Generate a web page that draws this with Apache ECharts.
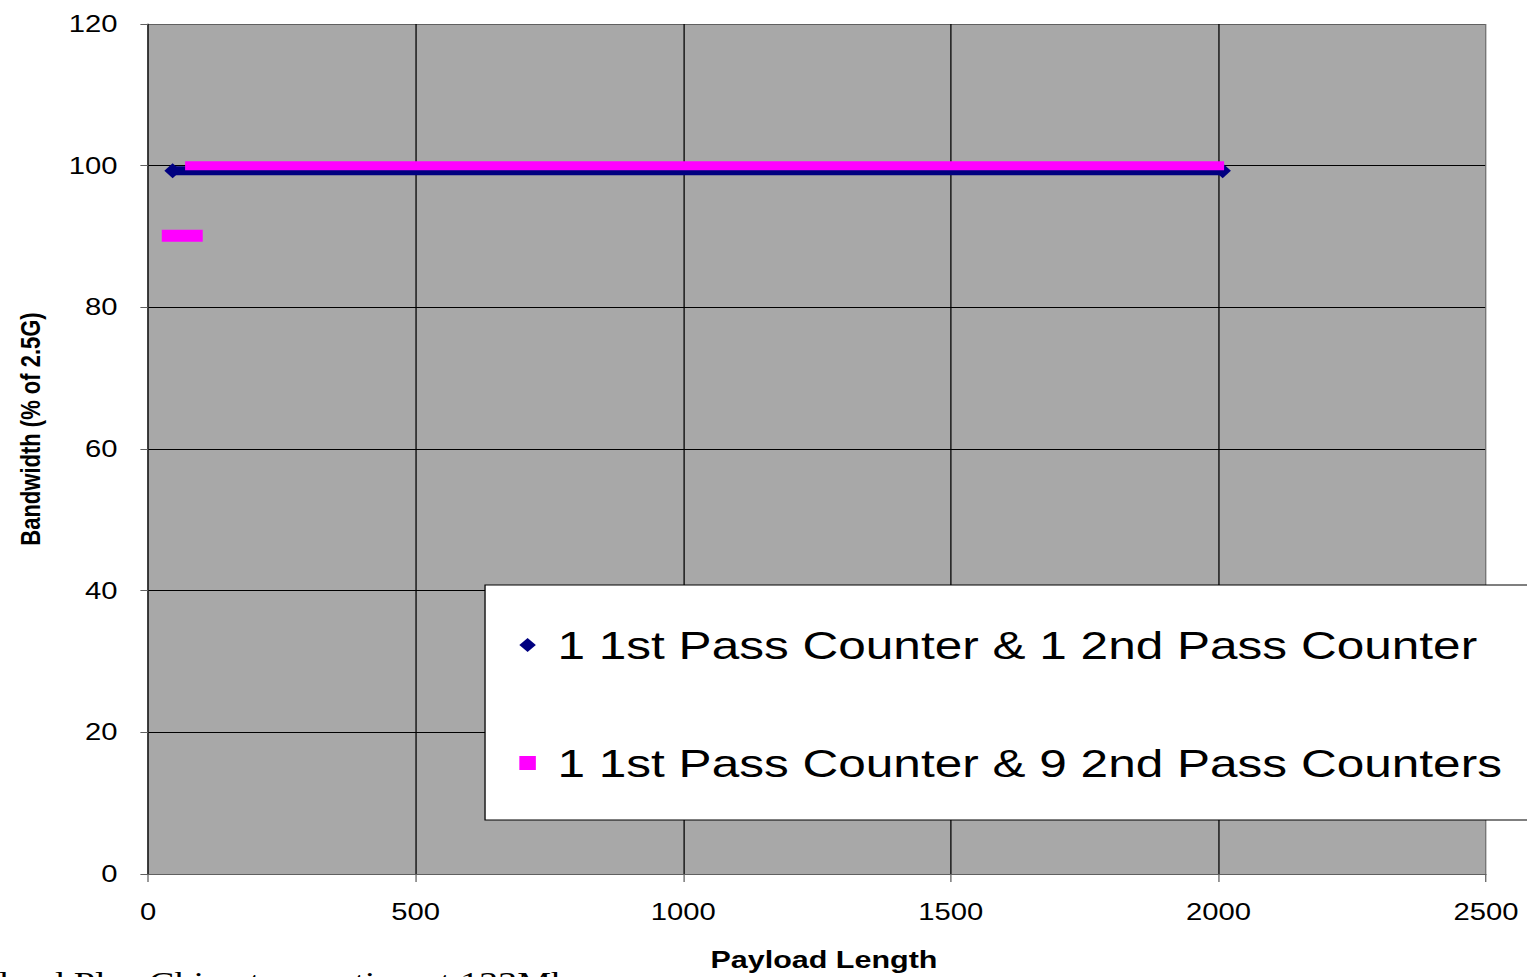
<!DOCTYPE html>
<html>
<head>
<meta charset="utf-8">
<script src="https://cdn.jsdelivr.net/npm/echarts@6/dist/echarts.min.js"></script>
<style>
  html, body { margin: 0; padding: 0; background: #fff; overflow: hidden; }
  /* the sheet is laid out narrow and widened horizontally, like a stretched Excel chart */
  #wrap { position: absolute; left: 0; top: 0; width: 1527px; height: 977px; overflow: hidden; }
  #chart { position: absolute; left: 0; top: 0; width: 1202px; height: 977px;
           transform: scaleX(1.2704); transform-origin: 0 0; }
</style>
</head>
<body>
<div id="wrap"><div id="chart"></div></div>
<script>
// Series names
const seriesNames = [
  '1 1st Pass Counter & 1 2nd Pass Counter',
  '1 1st Pass Counter & 9 2nd Pass Counters'
];

// 1 first-pass counter & 1 second-pass counter
const payload1 = [46, 64, 128, 256, 512, 768, 1024, 1280, 1536, 1792, 2008];
const bandwidth1 = [99.3, 99.3, 99.3, 99.3, 99.3, 99.3, 99.3, 99.3, 99.3, 99.3, 99.3];

// 1 first-pass counter & 9 second-pass counters (full-rate points)
const payload2 = [80, 128, 256, 512, 768, 1024, 1280, 1536, 1792, 2000];
const bandwidth2 = [100, 100, 100, 100, 100, 100, 100, 100, 100, 100];

// same configuration, short payloads that fall below full rate
const payload2Low = [40, 48, 56, 64, 72, 80, 88];
const bandwidth2Low = [90.1, 90.1, 90.1, 90.1, 90.1, 90.1, 90.1];

// axis ticks
const xTicks = [0, 500, 1000, 1500, 2000, 2500];
const yTicks = [0, 20, 40, 60, 80, 100, 120];

const footnote = 'Payload Plus Chip at operation at 133Mhz';

const NAVY = '#000080';
const MAGENTA = '#ff00ff';
const FONT = '"Liberation Sans", Arial, sans-serif';

const pairs = (xs, ys) => xs.map((x, i) => [x, ys[i]]);

const navyData = pairs(payload1, bandwidth1).map((v, i, arr) => ({
  value: v,
  symbol: (i === 0 || i === arr.length - 1) ? 'diamond' : 'none'
}));

const chart = echarts.init(document.getElementById('chart'), null, { renderer: 'svg' });

chart.setOption({
  animation: false,
  backgroundColor: '#ffffff',
  grid: {
    left: 116.5, top: 24, width: 1053.2, height: 855,
    show: true, backgroundColor: '#a8a8a8', borderWidth: 0
  },
  xAxis: {
    type: 'value',
    min: xTicks[0], max: xTicks[xTicks.length - 1], interval: xTicks[1] - xTicks[0],
    name: 'Payload Length',
    nameLocation: 'middle',
    nameGap: 74,
    nameTextStyle: { fontFamily: FONT, fontWeight: 'bold', fontSize: 24, color: '#000', padding: [0, 0, 0, 11] },
    axisLine: { show: true, lineStyle: { color: '#606060', width: 1 } },
    axisTick: { show: true, inside: false, length: 8, lineStyle: { color: '#606060' } },
    axisLabel: { margin: 27, fontFamily: FONT, fontSize: 23, color: '#000', formatter: v => String(v) },
    splitLine: {
      show: true,
      lineStyle: { color: ['#000', '#000', '#000', '#000', '#000', '#707070'], width: 1 }
    }
  },
  yAxis: {
    type: 'value',
    min: yTicks[0], max: yTicks[yTicks.length - 1], interval: yTicks[1] - yTicks[0],
    name: 'Bandwidth (% of 2.5G)',
    nameLocation: 'middle',
    nameRotate: 90,
    nameGap: 82,
    nameTextStyle: { fontFamily: FONT, fontWeight: 'bold', fontSize: 22, color: '#000', padding: [0, 0, 0, 40] },
    axisLine: { show: true, lineStyle: { color: '#303030', width: 1 } },
    axisTick: { show: true, inside: false, length: 6, lineStyle: { color: '#606060' } },
    axisLabel: { margin: 24, fontFamily: FONT, fontSize: 23, color: '#000', formatter: v => String(v) },
    splitLine: {
      show: true,
      lineStyle: { color: ['#000', '#000', '#000', '#000', '#000', '#000', '#606060'], width: 1 }
    }
  },
  legend: {
    orient: 'vertical',
    left: 381.8, top: 585,
    backgroundColor: '#ffffff',
    borderColor: '#000', borderWidth: 1, borderRadius: 0,
    padding: [38, 60, 35, 27],
    itemGap: 74,
    itemWidth: 13, itemHeight: 14,
    textStyle: { fontFamily: FONT, fontSize: 39, color: '#000', lineHeight: 44, padding: [0, 0, 0, 12] },
    data: [
      { name: seriesNames[0], icon: 'diamond', itemStyle: { color: NAVY } },
      { name: seriesNames[1], icon: 'rect', itemStyle: { color: MAGENTA } }
    ]
  },
  series: [
    {
      name: seriesNames[0],
      type: 'line',
      data: navyData,
      symbolSize: [13, 15],
      itemStyle: { color: NAVY },
      lineStyle: { color: NAVY, width: 9, cap: 'butt' },
      z: 2
    },
    {
      name: seriesNames[1],
      type: 'line',
      data: pairs(payload2, bandwidth2),
      symbol: 'none',
      itemStyle: { color: MAGENTA },
      lineStyle: { color: MAGENTA, width: 9, cap: 'square' },
      z: 3
    },
    {
      name: seriesNames[1],
      type: 'line',
      data: pairs(payload2Low, bandwidth2Low),
      symbol: 'none',
      itemStyle: { color: MAGENTA },
      lineStyle: { color: MAGENTA, width: 12, cap: 'square' },
      z: 3
    }
  ],
  graphic: [
    {
      type: 'text',
      left: -46,
      top: 966,
      z: 10,
      style: {
        text: footnote,
        font: '30px "Liberation Serif", "Times New Roman", serif',
        fill: '#000'
      }
    }
  ]
});
</script>
</body>
</html>
